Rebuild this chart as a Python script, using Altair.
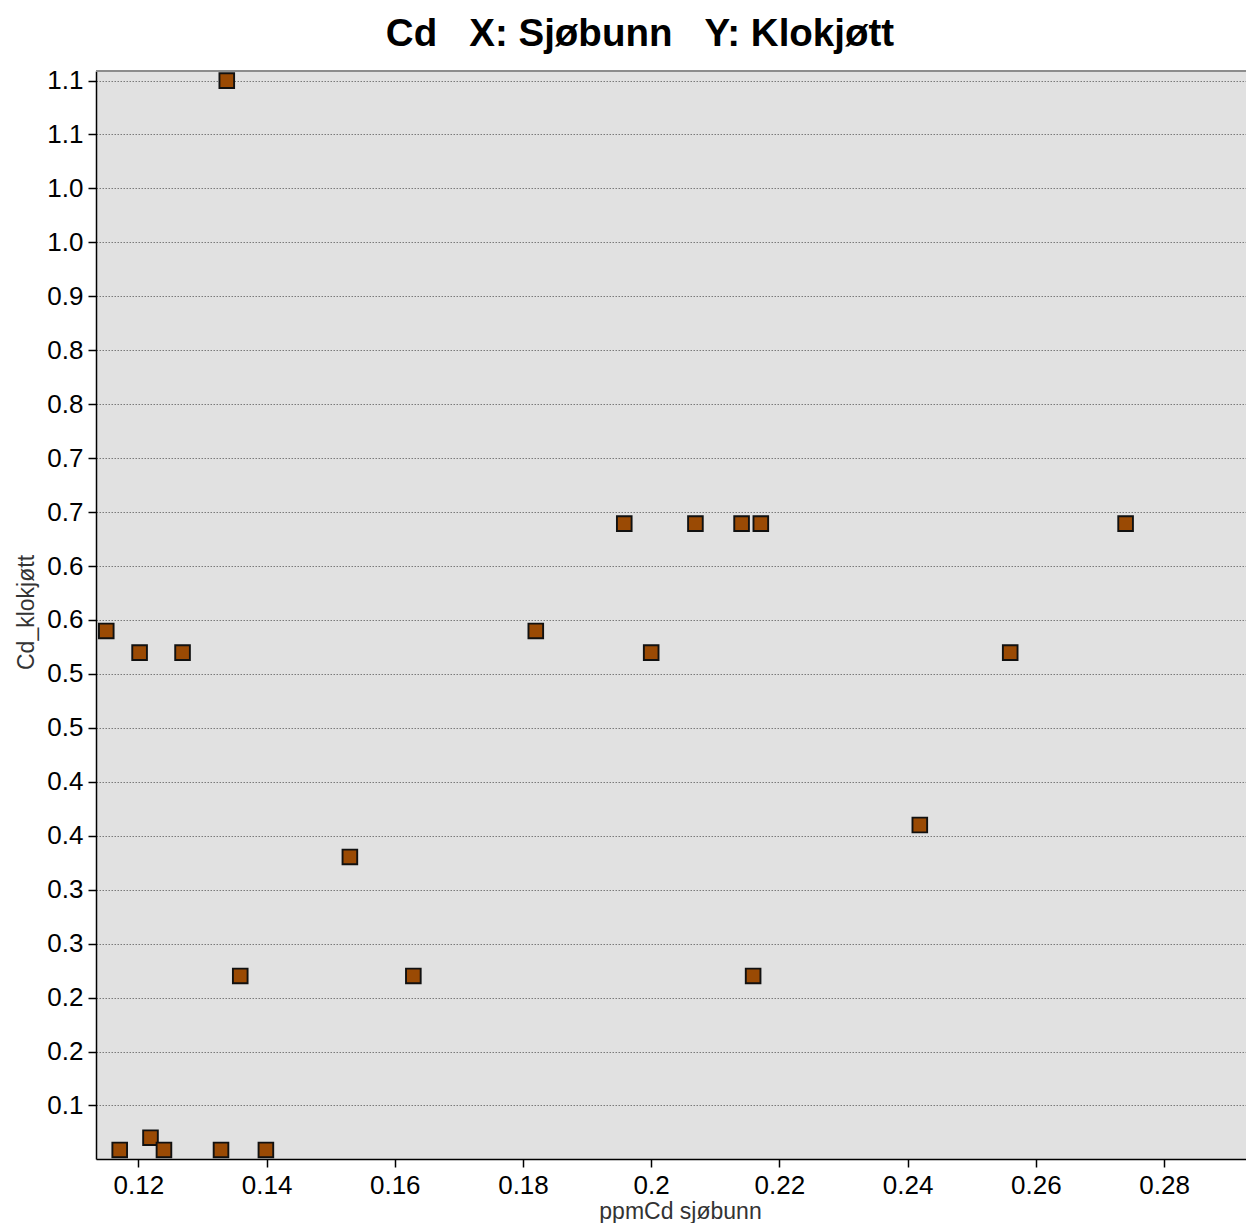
import altair as alt
import pandas as pd

# Data
x_sjobunn = [0.1338, 0.1150, 0.1202, 0.1269, 0.1171, 0.1219, 0.1240, 0.1329,
             0.1399, 0.1359, 0.1530, 0.1629, 0.1820, 0.1958, 0.2000, 0.2069,
             0.2141, 0.2171, 0.2159, 0.2419, 0.2560, 0.2740, 0.2950]
y_klokjott = [1.1107, 0.5680, 0.5466, 0.5466, 0.0561, 0.0682, 0.0561, 0.0561,
              0.0561, 0.2277, 0.3451, 0.2277, 0.5680, 0.6738, 0.5466, 0.6738,
              0.6738, 0.6738, 0.2277, 0.3766, 0.5466, 0.6738, 0.5680]

x_ticks = [0.12, 0.14, 0.16, 0.18, 0.20, 0.22, 0.24, 0.26, 0.28]
y_ticks = [0.1, 0.1532, 0.2064, 0.2596, 0.3128, 0.366, 0.4192, 0.4724, 0.5256,
           0.5788, 0.632, 0.6852, 0.7384, 0.7916, 0.8448, 0.898, 0.9512,
           1.0044, 1.0576, 1.1108]
x_domain = [0.1134, 0.29278]
y_domain = [0.0472, 1.1202]

df = pd.DataFrame({"x": x_sjobunn, "y": y_klokjott})

FONT = "Liberation Sans"
title_text = "Cd\u00a0\u00a0\u00a0X: Sjøbunn\u00a0\u00a0\u00a0Y: Klokjøtt"

points = alt.Chart(df).mark_square(
    size=215, filled=True, fill="#9A4A04", stroke="#111111",
    strokeWidth=1.9, opacity=1, clip=True
).encode(
    x=alt.X("x:Q",
            scale=alt.Scale(domain=x_domain, nice=False, zero=False),
            axis=alt.Axis(values=x_ticks, format=".2~f", grid=False,
                          title="ppmCd sjøbunn",
                          titleX=584, titleY=59, titleAlign="center",
                          titleBaseline="alphabetic",
                          labelPadding=5, labelFlush=False)),
    y=alt.Y("y:Q",
            scale=alt.Scale(domain=y_domain, nice=False, zero=False),
            axis=alt.Axis(values=y_ticks, format=".1f", grid=True,
                          gridDash=[1.5, 1.5], gridColor="#7a7a7a", gridWidth=1,
                          title="Cd_klokjøtt",
                          titleX=-63, titleY=541, titleAngle=270,
                          titleAlign="center", titleBaseline="alphabetic",
                          labelPadding=5, labelOverlap=False, labelFlush=False)),
)

# top frame line of the plot area (the right side is cut off in the reference)
top_border = alt.Chart(df).mark_rule(color="#8c8c8c", strokeWidth=2).encode(
    y=alt.value(0)
)

chart = alt.layer(points, top_border).properties(
    width=1150,
    height=1088,
    background="white",
    autosize=alt.AutoSizeParams(type="none"),
    padding={"left": 88, "top": 63, "right": 0, "bottom": 64},
    title=alt.TitleParams(title_text, font=FONT, fontSize=38.5, fontWeight="bold",
                          color="#000000", anchor="middle", frame="group",
                          dx=-31, offset=13),
).configure_view(
    fill="#E1E1E1", stroke=None
).configure_axis(
    domainColor="#000000", domainWidth=1.5,
    tickColor="#000000", tickSize=8, tickWidth=1.5,
    labelFont=FONT, labelFontSize=26, labelColor="#000000",
    titleFont=FONT, titleFontSize=23, titleFontWeight="normal", titleColor="#333333",
)

chart.save("out.html", embed_options={"renderer": "svg", "actions": False})
